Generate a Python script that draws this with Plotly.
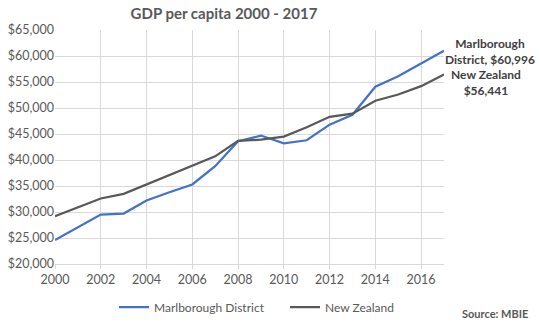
import plotly.graph_objects as go

years = list(range(2000, 2018))
marlborough = [24600, 27000, 29500, 29700, 32200, 33800, 35300, 38800, 43600, 44700,
               43200, 43800, 46800, 48700, 54100, 56100, 58500, 60996]
new_zealand = [29200, 30900, 32600, 33500, 35300, 37200, 38900, 40700, 43700, 43900,
               44500, 46300, 48300, 48900, 51400, 52600, 54200, 56441]

FONT = "Lato"
GREY = "#595959"

fig = go.Figure()
fig.add_trace(go.Scatter(x=years, y=marlborough, mode="lines", name="Marlborough District",
                         line=dict(color="#4472C4", width=2.25)))
fig.add_trace(go.Scatter(x=years, y=new_zealand, mode="lines", name="New Zealand",
                         line=dict(color="#595959", width=2.25)))

fig.update_layout(
    width=537, height=324,
    margin=dict(l=55, r=93, t=30, b=60, autoexpand=False),
    paper_bgcolor="white", plot_bgcolor="white",
    font=dict(family=FONT, color=GREY, size=12),
    title=dict(text="<b>GDP per capita 2000 - 2017</b>", x=224/537, xanchor="center",
               y=1 - 14/324, yanchor="middle", font=dict(size=15, color=GREY, family=FONT)),
    legend=dict(orientation="h", x=114/537, xref="container", xanchor="left",
                y=1 - 307/324, yref="container", yanchor="middle",
                entrywidth=126, entrywidthmode="pixels",
                font=dict(size=12, color=GREY), itemwidth=30, bgcolor="rgba(0,0,0,0)"),
    xaxis=dict(range=[2000, 2017], dtick=2, tick0=2000, showgrid=True, gridcolor="#d9d9d9",
               gridwidth=1, zeroline=False, showline=True, linecolor="#d9d9d9",
               ticks="outside", ticklen=4, tickcolor="#d9d9d9",
               tickfont=dict(size=12.5, color=GREY)),
    yaxis=dict(range=[20000, 65000], dtick=5000, tickformat="$,.0f", showgrid=True,
               gridcolor="#d9d9d9", gridwidth=1, zeroline=False, showline=False,
               tickfont=dict(size=12.5, color=GREY)),
    annotations=[
        dict(text="<b>Marlborough<br>District, $60,996</b>", xref="paper", yref="paper",
             x=1.118, y=(264 - 51) / 234, xanchor="center", yanchor="middle", showarrow=False,
             align="center", font=dict(size=12, color="#404040", family=FONT)),
        dict(text="<b>New Zealand<br>$56,441</b>", xref="paper", yref="paper",
             x=1.108, y=(264 - 82) / 234, xanchor="center", yanchor="middle", showarrow=False,
             align="center", font=dict(size=12, color="#404040", family=FONT)),
        dict(text="<b>Source: MBIE</b>", xref="paper", yref="paper",
             x=(530 - 55) / 389, y=(264 - 313) / 234, xanchor="right", yanchor="middle",
             showarrow=False, font=dict(size=11, color=GREY, family=FONT)),
    ],
)

fig.write_html("out.html")
